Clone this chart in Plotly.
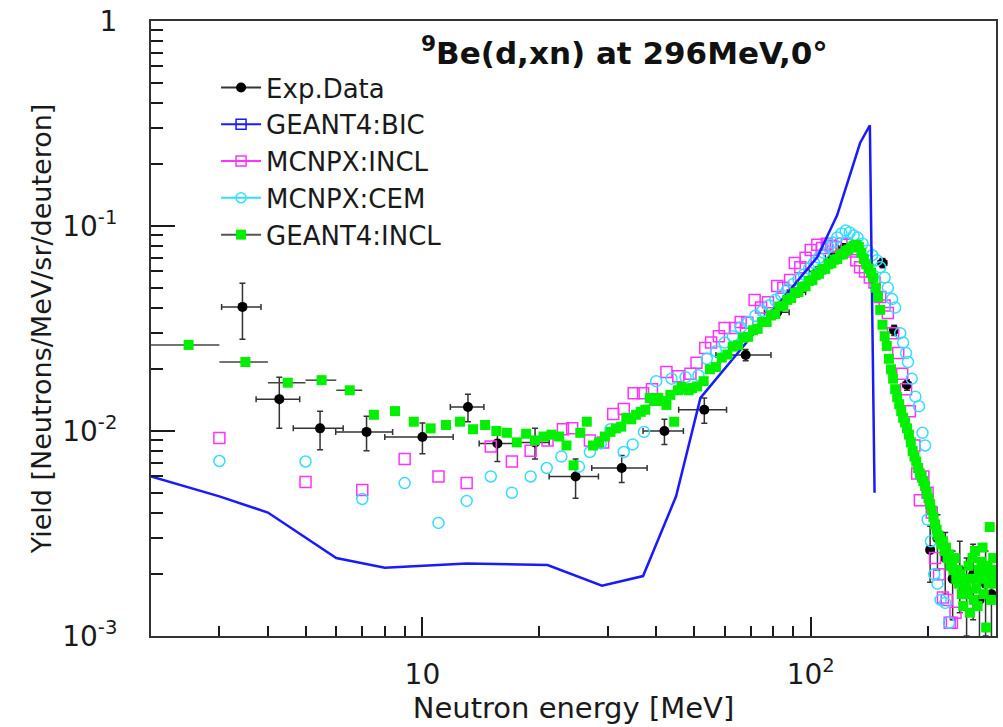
import plotly.graph_objects as go
import math

# ---------------- data ----------------
exp_x = [3.44, 4.28, 5.45, 7.18, 10.0, 13.1, 15.6, 19.5, 24.8, 32.6, 42.0, 53.2, 68.0, 82.0, 92.0,
         104.0, 114.0, 122.0, 131.0, 153.0, 164.0, 177.0, 203.0, 212.0, 222.0, 232.0, 242.0,
         252.0, 262.0, 272.0, 282.0, 292.0]
exp_y = [0.0403, 0.0143, 0.0103, 0.0099, 0.00935, 0.0131, 0.0087, 0.0088, 0.0060, 0.0066, 0.0100,
         0.0127, 0.0235, 0.0380, 0.0475, 0.0600, 0.0700, 0.0780, 0.0800, 0.0660, 0.0310, 0.0168,
         0.00263, 0.0030, 0.0024, 0.0019, 0.0021, 0.0017, 0.0020, 0.0015, 0.0018, 0.0016]
exp_xerr = [0.4, 0.55, 0.8, 1.2, 2.0, 1.3, 1.6, 1.7, 3.6, 5.3, 5.0, 7.5, 11.0, 6.0, 5.0,
            5.0, 5.0, 4.0, 4.0, 4.0, 4.0, 4.0, 4.0, 4.0, 4.0, 4.0, 4.0,
            4.0, 4.0, 4.0, 4.0, 4.0]
exp_yerr = [0.0123, 0.0040, 0.0022, 0.0019, 0.0016, 0.0020, 0.0016, 0.0015, 0.0013, 0.0010, 0.0014,
            0.0018, 0.0015, 0.0020, 0.0025, 0.0030, 0.0035, 0.0040, 0.0040, 0.0035, 0.0018, 0.0010,
            0.0008, 0.0009, 0.0008, 0.0007, 0.0008, 0.0007, 0.0008, 0.0006, 0.0008, 0.0007]

bic_x = [2.0, 3.0, 4.0, 6.0, 8.0, 13.0, 21.0, 29.0, 37.0, 45.0, 52.0, 104.0, 117.0, 134.0, 142.0, 146.0]
bic_y = [0.0060, 0.0048, 0.0040, 0.0024, 0.00215, 0.00226, 0.00222, 0.00176, 0.00196, 0.0048,
         0.0145, 0.0705, 0.113, 0.254, 0.31, 0.0050]

mi_x = [3, 5, 7, 9, 11, 13, 15, 17, 19, 21, 23, 24.3, 27, 29.2, 31, 33, 35, 37, 39, 42.5, 45.6,
        49, 50.8, 53.5, 55.4, 58, 60, 63.8, 66, 68.7, 71.7, 74.5, 77.6, 82, 85, 88.5, 91, 94, 97,
        100, 104, 107, 110, 113, 116, 120, 124, 128, 131, 134, 138, 142, 146, 151, 155, 158, 163,
        168, 172, 176, 180, 185, 188, 191, 195, 200, 205, 209, 214, 219, 224, 228, 231, 236]
mi_y = [0.00924, 0.00564, 0.00516, 0.0073, 0.0060, 0.00557, 0.0084, 0.0071, 0.0080, 0.0090,
        0.0102, 0.0103, 0.0090, 0.0088, 0.0121, 0.0128, 0.0153, 0.0153, 0.0160, 0.0194, 0.0185,
        0.0190, 0.0215, 0.0254, 0.0270, 0.0290, 0.0318, 0.0318, 0.0340, 0.0337, 0.0435, 0.0400,
        0.0425, 0.0510, 0.0500, 0.0545, 0.0660, 0.0630, 0.0700, 0.0763, 0.0810, 0.0780, 0.0820,
        0.0800, 0.0790, 0.0820, 0.0810, 0.0750, 0.0680, 0.0630, 0.0600, 0.0560, 0.0530, 0.0450,
        0.0410, 0.0376, 0.0300, 0.0240, 0.0190, 0.0160, 0.0125, 0.0085, 0.0062, 0.0046, 0.0060,
        0.0050, 0.0040, 0.0024, 0.0020, 0.00154, 0.0015, 0.00116, 0.00116, 0.0013]

mc_x = [3, 5, 7, 9, 11, 13, 15, 17, 19, 20.9, 22.8, 25.3, 27, 28.8, 30.5, 33, 34.8, 37.2, 40,
        43.8, 47.6, 51.4, 54, 57, 60, 63, 66, 69, 72, 75, 78, 81, 84, 87, 90, 93, 96, 99, 102,
        105, 108, 111, 114, 117, 120, 123, 126, 129, 132, 136, 140, 144, 148, 151, 155, 158, 162,
        165, 170, 173, 176, 178, 182, 186, 190, 194, 197, 200, 204, 208, 212, 216, 222, 227]
mc_y = [0.00714, 0.0071, 0.00466, 0.00557, 0.00356, 0.00456, 0.0060, 0.0050, 0.0060, 0.0066,
        0.0075, 0.0067, 0.0079, 0.0087, 0.0102, 0.0079, 0.0086, 0.0099, 0.0175, 0.0180, 0.0183,
        0.0187, 0.0225, 0.0245, 0.0270, 0.0290, 0.0320, 0.0340, 0.0365, 0.0385, 0.0410, 0.0435,
        0.0460, 0.0490, 0.0520, 0.0550, 0.0580, 0.0620, 0.0660, 0.0700, 0.0740, 0.0790, 0.0830,
        0.0880, 0.0920, 0.0950, 0.0930, 0.0900, 0.0880, 0.0820, 0.0760, 0.0720, 0.0680, 0.0630,
        0.0560, 0.0500, 0.0440, 0.0400, 0.0300, 0.0270, 0.0240, 0.0217, 0.0180, 0.0147, 0.0132,
        0.0098, 0.0085, 0.0037, 0.0029, 0.0020, 0.0018, 0.0015, 0.00145, 0.00116]

gi_x = [2.5, 3.5, 4.5, 5.5, 6.5, 7.5, 8.5, 9.5, 10.5, 11.5, 12.5, 13.5, 14.5, 15.5, 16.5, 17.5,
        18.5, 19.5, 20.5, 21.5, 22.5, 23.5, 24.5, 25.5, 26.5, 27.5, 28.5, 29.5, 30.5, 31.5, 32.5,
        33.5, 34.5, 35.5, 36.5, 37.5, 38.5, 39.5, 40.5, 41.5, 42.5, 43.5, 44.5, 45.5, 46.5, 47.5,
        48.5, 49.5, 51, 53, 55, 57, 59, 61, 63, 65, 67, 69, 71, 73, 75, 77, 79, 81, 83, 85, 87, 89,
        91, 93, 95, 97, 99, 101, 103, 105, 107, 109, 111, 113, 115, 117, 119, 121, 123, 125, 127,
        129, 131, 133, 135, 137, 139, 141, 143, 145, 147, 149, 151, 153, 155, 157, 159, 161, 163,
        165, 167, 169, 171, 173, 175, 177, 179, 181, 183, 185, 187, 189, 191, 193, 195, 197, 199,
        201, 203, 205, 207, 209, 211, 213, 215, 217, 219, 221, 223, 225, 227, 229, 231, 233, 235,
        237, 239, 241, 243, 245, 247, 249, 251, 253, 255, 257, 259, 261, 263, 265, 267, 269, 271,
        273, 275, 277, 279, 281, 283, 285, 287, 289, 291, 293, 295, 297, 299]
gi_y = [0.0263, 0.0217, 0.0172, 0.0177, 0.0158, 0.0120, 0.0125, 0.0111, 0.0103, 0.0107, 0.0111,
        0.0102, 0.0107, 0.0100, 0.0098, 0.0088, 0.0097, 0.0090, 0.0094, 0.0096, 0.0094, 0.0085,
        0.0068, 0.0098, 0.0111, 0.0085, 0.0088, 0.0094, 0.0099, 0.0103, 0.0105, 0.0116, 0.0114,
        0.0120, 0.0124, 0.0127, 0.0145, 0.0140, 0.0145, 0.0140, 0.0134, 0.0150, 0.0111, 0.0158,
        0.0164, 0.0160, 0.0158, 0.0162, 0.0165, 0.0175, 0.0200, 0.0205, 0.0228, 0.0236, 0.0258,
        0.0262, 0.0285, 0.0288, 0.0310, 0.0315, 0.0340, 0.0340, 0.0366, 0.0372, 0.0405, 0.0408,
        0.0436, 0.0445, 0.0472, 0.0476, 0.0505, 0.0508, 0.0540, 0.0545, 0.0575, 0.0585, 0.0615,
        0.0618, 0.0650, 0.0658, 0.0685, 0.0690, 0.0725, 0.0728, 0.0755, 0.0768, 0.0785, 0.0800,
        0.0810, 0.0790, 0.0740, 0.0690, 0.0650, 0.0620, 0.0590, 0.0560, 0.0500, 0.0450, 0.0390,
        0.0330, 0.0290, 0.0260, 0.0225, 0.0200, 0.0180, 0.0160, 0.0146, 0.0135, 0.0125, 0.0116,
        0.0110, 0.0103, 0.0096, 0.0088, 0.0080, 0.0075, 0.0071, 0.0066, 0.0062, 0.0060, 0.0057,
        0.0054, 0.0050, 0.0047, 0.0044, 0.0041, 0.0038, 0.0035, 0.0033, 0.0031, 0.0030, 0.0028,
        0.0029, 0.0026, 0.0027, 0.0024, 0.0025, 0.0022, 0.0023, 0.0021, 0.0024, 0.0019, 0.0021,
        0.0018, 0.0020, 0.0016, 0.0014, 0.0019, 0.0017, 0.0016, 0.0022, 0.0013, 0.0019, 0.0024,
        0.0015, 0.0026, 0.0017, 0.0014, 0.0021, 0.0019, 0.0023, 0.0027, 0.0016, 0.0020, 0.0011,
        0.0022, 0.0018, 0.0034, 0.0015, 0.0019, 0.0024, 0.0021, 0.0018]
gi_xerr = [0.5, 0.5, 0.5, 0.5, 0.5]

labels = ["Exp.Data", "GEANT4:BIC", "MCNPX:INCL", "MCNPX:CEM", "GEANT4:INCL"]
x_tickvals = [10, 100]
x_ticktext = ["10", "10<sup>2</sup>"]
x_minor = [2, 3, 4, 5, 6, 7, 8, 9, 20, 30, 40, 50, 60, 70, 80, 90, 200, 300]
y_tickvals = [0.001, 0.01, 0.1, 1]
y_ticktext = ["10<sup>-3</sup>", "10<sup>-2</sup>", "10<sup>-1</sup>", "1"]
y_minor = [m * 10.0 ** e for e in (-3, -2, -1) for m in range(2, 10)]

# ---------------- style ----------------
FONT = "DejaVu Sans"
INK = "#1a1a1a"
C_EXP, C_BIC, C_MI, C_MC, C_GI = "#000000", "#1a1aff", "#ff33ff", "#33ddff", "#00f000"

fig = go.Figure()

# data traces (draw order)
fig.add_trace(go.Scatter(
    x=exp_x, y=exp_y, mode="markers", showlegend=False,
    marker=dict(symbol="circle", size=10, color=C_EXP),
    error_x=dict(type="data", array=exp_xerr, color="#333333", thickness=1.5, width=3),
    error_y=dict(type="data", array=exp_yerr, color="#333333", thickness=1.5, width=3)))
fig.add_trace(go.Scatter(
    x=mi_x, y=mi_y, mode="markers", showlegend=False,
    marker=dict(symbol="square-open", size=11, color=C_MI, line=dict(width=1.5))))
fig.add_trace(go.Scatter(
    x=mc_x, y=mc_y, mode="markers", showlegend=False,
    marker=dict(symbol="circle-open", size=11, color=C_MC, line=dict(width=1.5))))
fig.add_trace(go.Scatter(
    x=bic_x, y=bic_y, mode="lines", showlegend=False,
    line=dict(color=C_BIC, width=2.5)))
fig.add_trace(go.Scatter(
    x=gi_x, y=gi_y, mode="markers", showlegend=False,
    marker=dict(symbol="square", size=10, color=C_GI),
    error_x=dict(type="data", array=gi_xerr + [0] * (len(gi_x) - len(gi_xerr)),
                 color="#444444", thickness=1.5, width=0)))

# legend entries
leg = [
    (labels[0], dict(symbol="circle", size=10, color=C_EXP), "#333333"),
    (labels[1], dict(symbol="square-open", size=10, color=C_BIC, line=dict(width=1.5)), C_BIC),
    (labels[2], dict(symbol="square-open", size=10, color=C_MI, line=dict(width=1.5)), C_MI),
    (labels[3], dict(symbol="circle-open", size=10, color=C_MC, line=dict(width=1.5)), C_MC),
    (labels[4], dict(symbol="square", size=10, color=C_GI), "#555555"),
]
for i, (name, mk, lc) in enumerate(leg):
    fig.add_trace(go.Scatter(x=[None], y=[None], mode="lines+markers", name=name,
                             marker=mk, line=dict(color=lc, width=2),
                             legendgroup=f"g{i}"))

axis_common = dict(
    type="log", showgrid=False, zeroline=False, showline=True, linecolor="#333333",
    linewidth=2, mirror=True, ticks="inside", tickcolor=INK, tickwidth=1.5,
    tickmode="array", tickfont=dict(family=FONT, size=28, color=INK),
)

fig.update_layout(
    width=1003, height=727,
    margin=dict(l=151, r=5, t=21, b=91),
    paper_bgcolor="white", plot_bgcolor="white",
    font=dict(family=FONT, color=INK),
    xaxis=dict(axis_common, range=[math.log10(2), math.log10(300)],
               tickvals=x_tickvals, ticktext=x_ticktext, ticklen=19,
               ticklabelstandoff=12,
               minor=dict(tickmode="array", tickvals=x_minor, ticks="inside",
                          ticklen=10, tickwidth=1.5, tickcolor=INK),
               title=dict(text="Neutron energy [MeV]", font=dict(family=FONT, size=29, color=INK),
                          standoff=8)),
    yaxis=dict(axis_common, range=[-3, 0],
               tickvals=y_tickvals, ticktext=y_ticktext, ticklen=24,
               ticklabelstandoff=26,
               minor=dict(tickmode="array", tickvals=y_minor, ticks="inside",
                          ticklen=12, tickwidth=1.5, tickcolor=INK),
               title=dict(text="Yield [Neutrons/MeV/sr/deuteron]",
                          font=dict(family=FONT, size=27, color=INK), standoff=3)),
    legend=dict(x=0.077, y=0.93, xanchor="left", yanchor="top",
                bgcolor="rgba(0,0,0,0)", font=dict(family=FONT, size=26, color=INK),
                itemwidth=40, tracegroupgap=0, traceorder="grouped"),
    annotations=[dict(
        text="<b><sup>9</sup>Be(d,xn) at 296MeV,0°</b>", xref="paper", yref="paper",
        x=0.56, y=0.952, xanchor="center", yanchor="middle", showarrow=False,
        font=dict(family=FONT, size=31, color="#111111"))],
)

fig.write_html("out.html")
